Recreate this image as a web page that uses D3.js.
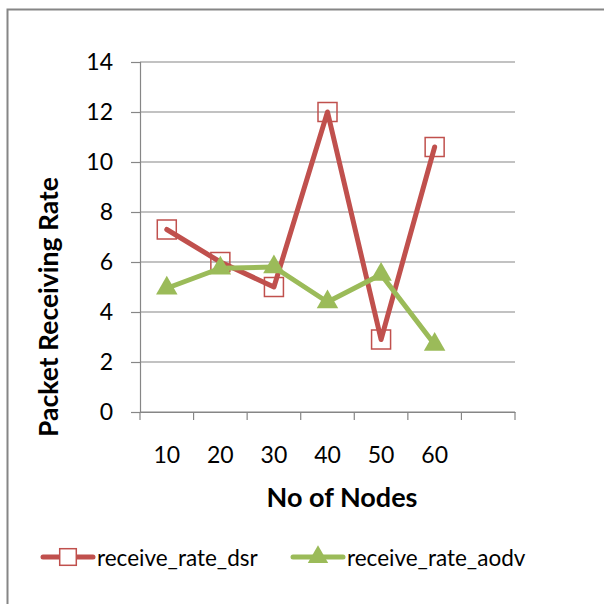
<!DOCTYPE html>
<html><head><meta charset="utf-8">
<script src="https://cdn.jsdelivr.net/npm/d3@7"></script>
<style>body{margin:0;background:#fff}svg{display:block}text{font-family:Lato,"Open Sans",sans-serif}</style>
</head><body>
<svg id="c" width="604" height="604"></svg>
<script>
const categories = ["10","20","30","40","50","60",""];
const dsr = [7.3, 6.0, 5.0, 12.0, 2.9, 10.6];
const aodv = [4.95, 5.75, 5.8, 4.4, 5.5, 2.7];
const yTicks = [0,2,4,6,8,10,12,14];
const seriesNames = ["receive_rate_dsr","receive_rate_aodv"];

const svg = d3.select("#c");
svg.append("rect").attr("x",7.5).attr("y",9.5).attr("width",620).attr("height",620)
  .attr("fill","#fff").attr("stroke","#868686").attr("stroke-width",2);

const L=140, R=515, T=62, B=412;
const x = d3.scaleBand().domain(categories.map((c,i)=>i)).range([L,R]);
const y = d3.scaleLinear().domain([0,14]).range([B,T]);
const cx = i => x(i)+x.bandwidth()/2;

// grid
svg.append("g").selectAll("line").data(yTicks).join("line")
  .attr("x1",L).attr("x2",R).attr("y1",d=>y(d)).attr("y2",d=>y(d))
  .attr("stroke","#868686").attr("stroke-width",1.2);

// y axis
const ya = svg.append("g").attr("transform",`translate(${L},0)`)
  .call(d3.axisLeft(y).tickValues(yTicks).tickSize(9).tickPadding(18));
ya.select(".domain").attr("stroke","#868686").attr("stroke-width",1.2);
ya.selectAll(".tick line").attr("stroke","#868686").attr("stroke-width",1.2);
ya.selectAll("text").attr("font-size",23).attr("fill","#000").attr("font-family","Lato");

// x axis
const xa = svg.append("g").attr("transform",`translate(0,${B})`)
  .call(d3.axisBottom(x).tickFormat(i=>categories[i]).tickSize(0));
xa.select(".domain").attr("stroke","#868686").attr("stroke-width",1.2);
xa.selectAll("text").attr("font-size",23).attr("fill","#000").attr("font-family","Lato")
  .attr("y",51).attr("dy",0);
svg.append("g").selectAll("line").data(d3.range(categories.length+1)).join("line")
  .attr("x1",i=>L+i*x.step()).attr("x2",i=>L+i*x.step()).attr("y1",B).attr("y2",B+8)
  .attr("stroke","#868686").attr("stroke-width",1.2);

const red="#C0504D", green="#9BBB59";
const line = d3.line().x((d,i)=>cx(i)).y(d=>y(d));

svg.append("path").datum(dsr).attr("d",line).attr("fill","none")
  .attr("stroke",red).attr("stroke-width",5).attr("stroke-linejoin","round").attr("stroke-linecap","round");
svg.append("g").selectAll("rect").data(dsr).join("rect")
  .attr("x",(d,i)=>cx(i)-9.5).attr("y",d=>y(d)-9.5).attr("width",19).attr("height",19)
  .attr("fill","none").attr("stroke",red).attr("stroke-width",1.5);

svg.append("path").datum(aodv).attr("d",line).attr("fill","none")
  .attr("stroke",green).attr("stroke-width",5).attr("stroke-linejoin","round").attr("stroke-linecap","round");
const tri = d3.symbol().type(d3.symbolTriangle).size(200);
svg.append("g").selectAll("path").data(aodv).join("path")
  .attr("d",tri).attr("transform",(d,i)=>`translate(${cx(i)},${y(d)})`).attr("fill",green);

// titles
svg.append("text").attr("x",342).attr("y",507).attr("text-anchor","middle")
  .attr("font-size",27).attr("font-weight","bold").attr("fill","#000").text("No of Nodes");
svg.append("text").attr("transform","translate(58,307) rotate(-90)").attr("text-anchor","middle")
  .attr("font-size",26.5).attr("font-weight","bold").attr("fill","#000").text("Packet Receiving Rate");

// legend
const lg = svg.append("g");
const items=[{x:43,c:red,n:seriesNames[0],m:"sq"},{x:293,c:green,n:seriesNames[1],m:"tri"}];
items.forEach(it=>{
  lg.append("line").attr("x1",it.x).attr("x2",it.x+50).attr("y1",557).attr("y2",557)
    .attr("stroke",it.c).attr("stroke-width",5).attr("stroke-linecap","round");
  if(it.m==="sq") lg.append("rect").attr("x",it.x+25-8.3).attr("y",557-8.3).attr("width",16.6).attr("height",16.6)
    .attr("fill","#fff").attr("stroke",it.c).attr("stroke-width",1.5);
  else lg.append("path").attr("d",d3.symbol().type(d3.symbolTriangle).size(180)).attr("transform",`translate(${it.x+25},557)`).attr("fill",it.c);
  lg.append("text").attr("x",it.x+54).attr("y",566).attr("font-size",22.5).attr("fill","#000").text(it.n);
});
</script>
</body></html>
